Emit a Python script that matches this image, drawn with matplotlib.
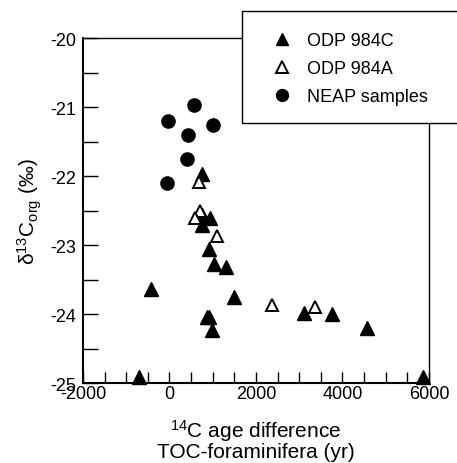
import matplotlib
matplotlib.use("Agg")
import matplotlib.pyplot as plt
from matplotlib.patches import Rectangle
from matplotlib.ticker import MultipleLocator

plt.rcParams["font.family"] = ["Liberation Sans", "DejaVu Sans"]
plt.rcParams["mathtext.fontset"] = "custom"
plt.rcParams["mathtext.rm"] = "Liberation Sans"
plt.rcParams["mathtext.it"] = "Liberation Sans:italic"
plt.rcParams["axes.unicode_minus"] = False

# ODP 984C (filled triangles)
c984_x = [744, 744, 936, 744, 913, 1036, 1299, -435, 1484, 860, 920, 975,
          3117, 3764, 4559, -698, 5868]
c984_y = [-21.97, -22.57, -22.61, -22.71, -23.06, -23.28, -23.32, -23.64,
          -23.75, -24.04, -24.04, -24.23, -23.99, -24.00, -24.21, -24.91, -24.91]

# ODP 984A (open triangles)
a984_x = [682, 705, 589, 1091, 2363, 3364]
a984_y = [-22.08, -22.50, -22.61, -22.87, -23.87, -23.90]

# NEAP samples (filled circles)
neap_x = [574, -28, 1013, 420, 398, -65]
neap_y = [-20.97, -21.20, -21.26, -21.40, -21.75, -22.10]

x_ticks = [-2000, 0, 2000, 4000, 6000]
y_ticks = [-25, -24, -23, -22, -21, -20]

fig = plt.figure(figsize=(4.57, 4.64), dpi=100)
ax = fig.add_axes([0.1816, 0.1724, 0.7571, 0.7435])

ax.plot(c984_x, c984_y, ls="none", marker="^", ms=9.5, mfc="black",
        mec="black", clip_on=False, label="ODP 984C", zorder=3)
ax.plot(a984_x, a984_y, ls="none", marker="^", ms=9, mfc="white",
        mec="black", mew=1.4, clip_on=False, label="ODP 984A", zorder=4)
ax.plot(neap_x, neap_y, ls="none", marker="o", ms=9.5, mfc="black",
        mec="black", clip_on=False, label="NEAP samples", zorder=3)

ax.set_xlim(-2000, 6000)
ax.set_ylim(-25, -20)
ax.set_xticks(x_ticks)
ax.set_yticks(y_ticks)
ax.xaxis.set_minor_locator(MultipleLocator(500))
ax.yaxis.set_minor_locator(MultipleLocator(0.5))
ax.tick_params(axis="x", which="both", direction="in", length=8, width=1,
               labelsize=13, pad=1.5, top=False)
ax.tick_params(axis="y", which="both", direction="in", length=11, width=1,
               labelsize=13, pad=5, right=False)

for side in ["left", "bottom"]:
    ax.spines[side].set_linewidth(1.5)
for side in ["top", "right"]:
    ax.spines[side].set_linewidth(1.0)

ax.set_xlabel("$\\mathregular{^{14}}$C age difference\nTOC-foraminifera (yr)",
              fontsize=15, linespacing=0.9, labelpad=11)
ax.set_ylabel("\u03b4$\\mathregular{^{13}C_{org}}$ (\u2030)", fontsize=15,
              labelpad=4)

# legend box sticking out past the top right corner
box = Rectangle((0.5295, 0.7328), 0.52, 0.2414, transform=fig.transFigure,
                facecolor="white", edgecolor="black", linewidth=1.0,
                zorder=5)
fig.patches.append(box)

handles, labels = ax.get_legend_handles_labels()
leg = fig.legend(handles, labels, loc="upper left",
                 bbox_to_anchor=(0.58, 0.948), frameon=False, fontsize=13,
                 handlelength=0.9, handletextpad=0.95, labelspacing=0.6,
                 borderpad=0, numpoints=1, markerscale=0.9)
leg.set_zorder(6)

fig.savefig("out.png", dpi=100)
